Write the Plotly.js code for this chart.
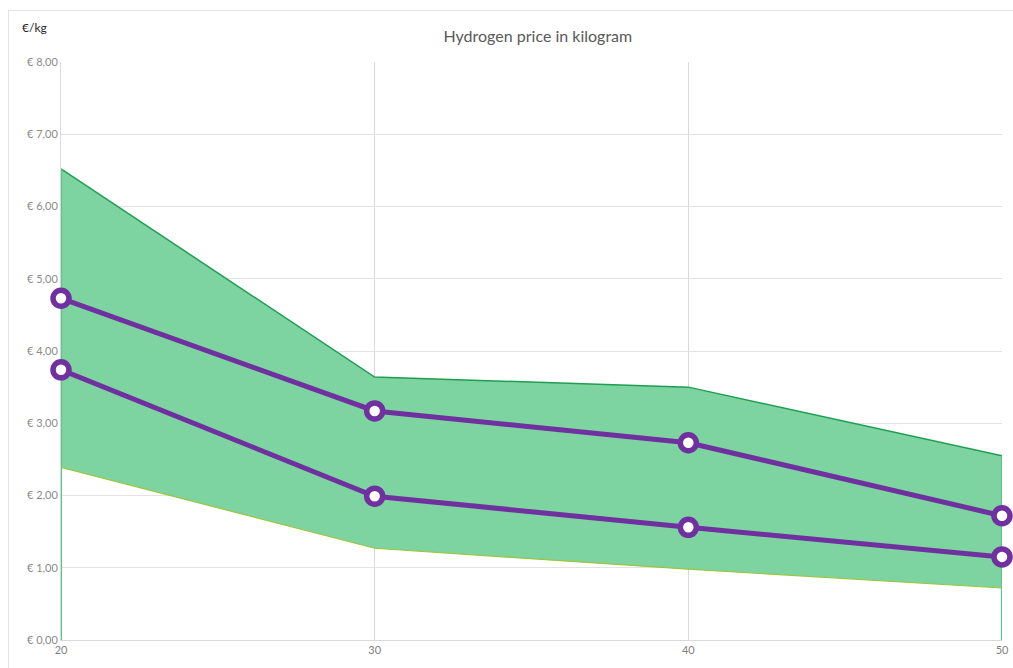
<!DOCTYPE html>
<html>
<head>
<meta charset="utf-8">
<script src="https://cdn.plot.ly/plotly-3.0.1.min.js"></script>
<style>
  html, body { margin: 0; padding: 0; background: #fff; }
  #wrap { position: relative; width: 1013px; height: 668px; }
  #chart { width: 1013px; height: 668px; }
  #frame { position: absolute; left: 8px; top: 10px; width: 1010px; height: 670px; border: 1px solid #e3e3e3; pointer-events: none; }
</style>
</head>
<body>
<div id="wrap"><div id="chart"></div><div id="frame"></div></div>
<script>
const years = [20, 30, 40, 50];
const bandHigh = [6.52, 3.64, 3.50, 2.55];
const bandLow = [2.39, 1.27, 0.98, 0.72];
const priceHigh = [4.73, 3.17, 2.73, 1.72];
const priceLow = [3.74, 1.99, 1.56, 1.15];
const yTicks = [0, 1, 2, 3, 4, 5, 6, 7, 8];
const yTickLabels = ['€ 0,00', '€ 1,00', '€ 2,00', '€ 3,00', '€ 4,00', '€ 5,00', '€ 6,00', '€ 7,00', '€ 8,00'];

const first = years[0], last = years[years.length - 1];

const traces = [
  { x: years, y: bandLow, type: 'scatter', mode: 'lines', line: { width: 0 }, hoverinfo: 'skip', showlegend: false },
  { x: years, y: bandHigh, type: 'scatter', mode: 'lines', fill: 'tonexty', fillcolor: 'rgba(125,212,160,1)',
    line: { color: '#1f9e52', width: 1.5 }, showlegend: false },
  { x: [first, first], y: [0, bandHigh[0]], type: 'scatter', mode: 'lines', cliponaxis: false, line: { color: '#5cc68a', width: 2.2 }, showlegend: false },
  { x: [last, last], y: [0, bandHigh[bandHigh.length - 1]], type: 'scatter', mode: 'lines', cliponaxis: false, line: { color: '#5cc68a', width: 2.2 }, showlegend: false },
  { x: years, y: bandLow, type: 'scatter', mode: 'lines', line: { color: '#9bc53d', width: 1.2 }, showlegend: false },
  { x: years, y: priceHigh, type: 'scatter', mode: 'lines+markers', cliponaxis: false,
    line: { color: '#7030a0', width: 5 },
    marker: { symbol: 'circle', size: 16, color: '#ffffff', line: { color: '#7030a0', width: 5.5 } }, showlegend: false },
  { x: years, y: priceLow, type: 'scatter', mode: 'lines+markers', cliponaxis: false,
    line: { color: '#7030a0', width: 5 },
    marker: { symbol: 'circle', size: 16, color: '#ffffff', line: { color: '#7030a0', width: 5.5 } }, showlegend: false }
];

const layout = {
  width: 1013, height: 668,
  margin: { l: 61, r: 11, t: 62, b: 28 },
  paper_bgcolor: '#ffffff', plot_bgcolor: '#ffffff',
  font: { family: 'Lato, "Open Sans", sans-serif', color: '#7f7f7f' },
  title: { text: 'Hydrogen price in kilogram', x: 0.531, xanchor: 'center', y: 0.945, yanchor: 'middle',
           font: { size: 16, color: '#595959', family: 'Lato, sans-serif' } },
  xaxis: {
    range: [first, last], tickvals: years, ticktext: years.map(String),
    showgrid: true, gridcolor: '#d9d9d9', gridwidth: 1, layer: 'below traces',
    zeroline: false, showline: true, linecolor: '#d9d9d9', linewidth: 1,
    ticks: '', tickfont: { size: 11, color: '#7f7f7f' }
  },
  yaxis: {
    range: [0, 8], tickvals: yTicks, ticktext: yTickLabels,
    showgrid: true, gridcolor: '#e3e3e3', gridwidth: 1, layer: 'below traces',
    zeroline: false, showline: true, linecolor: '#d9d9d9', linewidth: 1,
    ticks: '', tickfont: { size: 11, color: '#8a8a8a' }
  },
  annotations: [
    { text: '€/kg', xref: 'paper', yref: 'paper', x: -0.044, y: 1.06, xanchor: 'left', yanchor: 'middle',
      showarrow: false, font: { size: 12, color: '#262626', family: 'Lato, sans-serif' } }
  ]
};

Plotly.newPlot('chart', traces, layout, { displayModeBar: false, staticPlot: true });
</script>
</body>
</html>
